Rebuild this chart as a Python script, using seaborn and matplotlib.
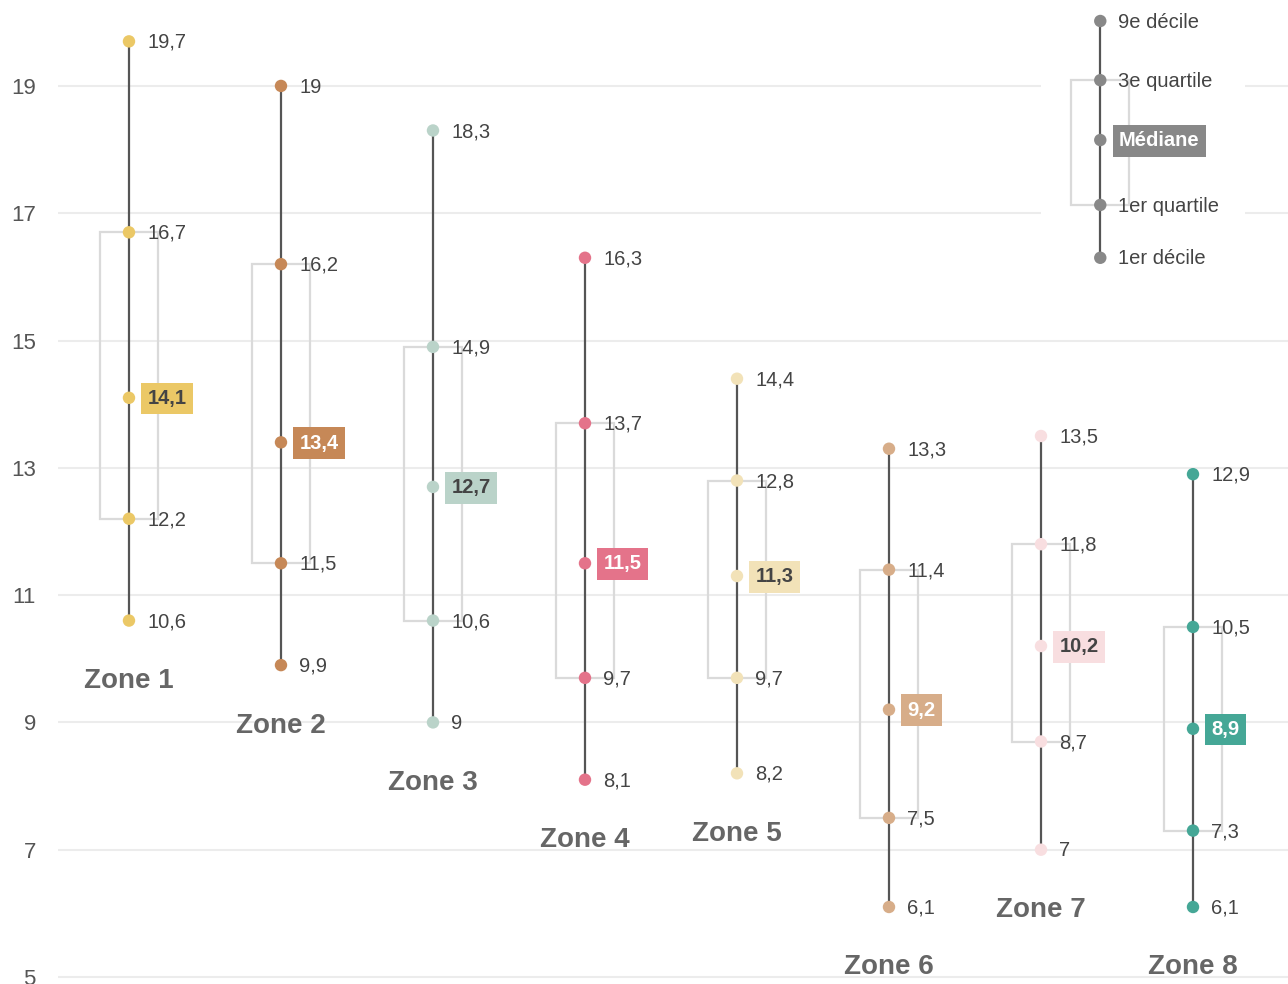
import matplotlib
matplotlib.use("Agg")
import matplotlib.pyplot as plt
import seaborn as sns
import pandas as pd
from matplotlib.patches import Rectangle

# ─── Data ─────────────────────────────────────────────────────────────────────
zones = ["Zone 1", "Zone 2", "Zone 3", "Zone 4", "Zone 5", "Zone 6", "Zone 7", "Zone 8"]
d1 = [10.6, 9.9, 9.0, 8.1, 8.2, 6.1, 7.0, 6.1]
q1 = [12.2, 11.5, 10.6, 9.7, 9.7, 7.5, 8.7, 7.3]
med = [14.1, 13.4, 12.7, 11.5, 11.3, 9.2, 10.2, 8.9]
q3 = [16.7, 16.2, 14.9, 13.7, 12.8, 11.4, 11.8, 10.5]
d9 = [19.7, 19.0, 18.3, 16.3, 14.4, 13.3, 13.5, 12.9]
colors = ["#EBC866", "#C68857", "#BAD3C9", "#E4738A",
          "#F2E2B8", "#D7AD89", "#F8DEE0", "#45A796"]
dark_text = [True, False, True, False, True, False, True, False]

legend_names = ["9e décile", "3e quartile", "Médiane", "1er quartile", "1er décile"]
legend_vals = [20.02, 19.09, 18.15, 17.13, 16.3]
legend_x = 6.39

yticks = [5, 7, 9, 11, 13, 15, 17, 19]

LINE = "#555555"
BOX = "#dadada"
TXT = "#444444"
HW = 0.19


def fmt(v):
    return f"{v:g}".replace(".", ",")


def draw_range(ax, x, vals, color, labels, med_dark, label_med_color):
    lo, a, m, b, hi = vals
    ax.add_patch(Rectangle((x - HW, a), 2 * HW, b - a, fill=False,
                           edgecolor=BOX, linewidth=1.6, zorder=2))
    ax.plot([x, x], [lo, hi], color=LINE, linewidth=1.6, zorder=3)
    df = pd.DataFrame({"x": [x] * 5, "y": vals})
    sns.scatterplot(data=df, x="x", y="y", color=color, s=80,
                    edgecolor="none", ax=ax, zorder=4, legend=False)
    for i, (v, lab) in enumerate(zip(vals, labels)):
        if i == 2:
            ax.annotate(lab, (x, v), xytext=(13.5, -0.5), textcoords="offset points",
                        va="center", ha="left", fontsize=14.5, fontweight="bold",
                        color=TXT if med_dark else "white", zorder=6,
                        bbox=dict(boxstyle="square,pad=0.32", fc=label_med_color,
                                  ec="none"))
        else:
            ax.annotate(lab, (x, v), xytext=(13, -0.8), textcoords="offset points",
                        va="center", ha="left", fontsize=14.5, color=TXT, zorder=6)


fig = plt.figure(figsize=(12.88, 9.84), dpi=100)
sns.set_theme(style="white")
plt.rcParams["font.family"] = ["Liberation Sans", "DejaVu Sans"]
ax = fig.add_axes([58 / 1288, 0, 1 - 58 / 1288, 1])
ax.set_xlim(-0.467, 7.625)
ax.set_ylim(4.89, 20.35)

for t in yticks:
    ax.axhline(t, color="#ececec", linewidth=1.5, zorder=0)

for i, z in enumerate(zones):
    vals = [d1[i], q1[i], med[i], q3[i], d9[i]]
    draw_range(ax, i, vals, colors[i], [fmt(v) for v in vals],
               dark_text[i], colors[i])
    ax.annotate(z, (i, d1[i]), xytext=(0, -43.5), textcoords="offset points",
                ha="center", va="center", fontsize=20, fontweight="bold",
                color="#666666", zorder=6)

# legend
ax.add_patch(Rectangle((legend_x - 0.39, 16.0), 0.95 + 0.39, 4.5,
                       facecolor="white", edgecolor="none", zorder=1))
draw_range(ax, legend_x, legend_vals[::-1], "#888888", legend_names[::-1],
           False, "#888888")

ax.set_yticks(yticks)
ax.set_yticklabels([str(t) for t in yticks], fontsize=16, color="#555555",
                   va="center_baseline")
ax.tick_params(axis="y", length=0, pad=16)
ax.set_xticks([])
ax.set_xlabel("")
ax.set_ylabel("")
for s in ax.spines.values():
    s.set_visible(False)

fig.savefig("out.png", dpi=100)
